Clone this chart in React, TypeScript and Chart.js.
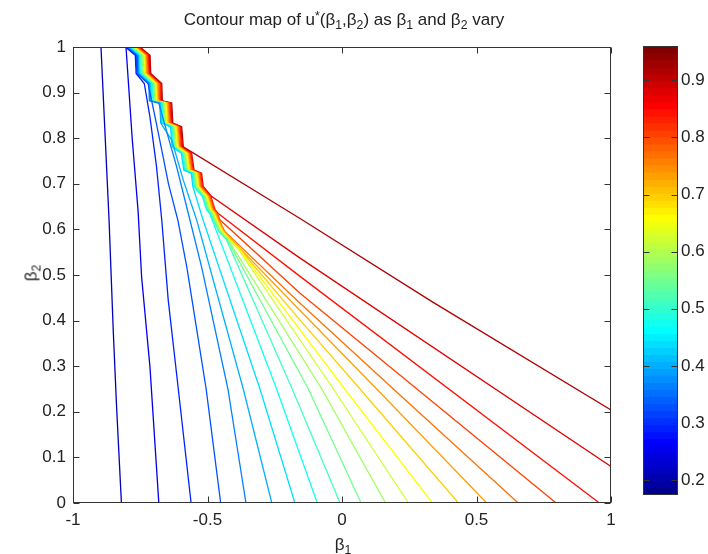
import React, { useEffect, useRef } from "react";
import { Chart, registerables } from "chart.js";

Chart.register(...registerables);

// ---- axes -----------------------------------------------------------------
const X_TICKS = [-1, -0.5, 0, 0.5, 1];
const Y_TICKS = [0, 0.1, 0.2, 0.3, 0.4, 0.5, 0.6, 0.7, 0.8, 0.9, 1];
const CB_TICKS = [0.2, 0.3, 0.4, 0.5, 0.6, 0.7, 0.8, 0.9];
const CB_MIN = 0.174;
const CB_MAX = 0.96;

// ---- contour levels of u* ------------------------------------------------
const LEVELS = [
  0.211, 0.249, 0.286, 0.324, 0.361, 0.399, 0.436, 0.473, 0.511, 0.548,
  0.586, 0.623, 0.661, 0.698, 0.735, 0.773, 0.81, 0.848, 0.885, 0.923,
];

// Stepped ridge (β1, β2) where u* jumps and the contours bunch together
const RIDGE: [number, number][] = [
  [-0.751, 1.0], [-0.714, 0.982], [-0.711, 0.942], [-0.67, 0.92],
  [-0.668, 0.882], [-0.633, 0.877], [-0.629, 0.833], [-0.596, 0.825],
  [-0.59, 0.781], [-0.559, 0.767], [-0.55, 0.73], [-0.522, 0.723],
  [-0.516, 0.694], [-0.484, 0.672], [-0.472, 0.643], [-0.46, 0.635],
  [-0.454, 0.621], [-0.435, 0.595], [-0.41, 0.577], [-0.38, 0.557],
];

// Index of the ridge vertex where each contour leaves it (-1: never on it)
const LEAVE_AT = [-1, -1, 2, 3, 5, 6, 12, 16, 18, 18, 18, 19, 19, 19, 18, 17, 16, 15, 13, 8];

// Course of each contour once it is off the ridge
const C01: [number, number][] = [[-0.896, 1], [-0.866, 0.621], [-0.85, 0.373], [-0.838, 0.211], [-0.82, 0]];
const C02: [number, number][] = [[-0.803, 1], [-0.78, 0.8], [-0.758, 0.64], [-0.745, 0.496], [-0.714, 0.299], [-0.681, 0]];
const C03: [number, number][] = [[-0.735, 0.92], [-0.714, 0.847], [-0.69, 0.74], [-0.67, 0.62], [-0.646, 0.445], [-0.615, 0.284], [-0.561, 0]];
const C04: [number, number][] = [[-0.695, 0.847], [-0.67, 0.774], [-0.645, 0.7], [-0.61, 0.62], [-0.577, 0.518], [-0.505, 0.25], [-0.451, 0]];
const C05: [number, number][] = [[-0.645, 0.8], [-0.615, 0.738], [-0.565, 0.62], [-0.522, 0.518], [-0.424, 0.25], [-0.357, 0]];
const C06: [number, number][] = [[-0.633, 0.796], [-0.59, 0.708], [-0.54, 0.62], [-0.367, 0.25], [-0.261, 0]];
const C07: [number, number][] = [[-0.516, 0.62], [-0.305, 0.25], [-0.175, 0]];
const C08: [number, number][] = [[-0.243, 0.25], [-0.092, 0]];
const C09: [number, number][] = [[-0.185, 0.25], [-0.007, 0]];
const C10: [number, number][] = [[-0.125, 0.25], [0.071, 0]];
const C11: [number, number][] = [[-0.075, 0.25], [0.162, 0]];
const C12: [number, number][] = [[-0.032, 0.25], [0.247, 0]];
const C13: [number, number][] = [[0.01, 0.25], [0.336, 0]];
const C14: [number, number][] = [[-0.156, 0.401], [0.067, 0.25], [0.433, 0]];
const C15: [number, number][] = [[-0.156, 0.422], [0.129, 0.25], [0.538, 0]];
const C16: [number, number][] = [[-0.156, 0.438], [0.191, 0.25], [0.655, 0]];
const C17: [number, number][] = [[-0.156, 0.46], [0.796, 0]];
const C18: [number, number][] = [[-0.156, 0.497], [0.957, 0]];
const C19: [number, number][] = [[-0.156, 0.537], [1.0, 0.08]];
const C20: [number, number][] = [[-0.156, 0.624], [0.339, 0.44], [1.0, 0.204]];

const COURSES = [C01, C02, C03, C04, C05, C06, C07, C08, C09, C10, C11, C12, C13, C14, C15, C16, C17, C18, C19, C20];

// ---- styling --------------------------------------------------------------
const FONT_FAMILY = '"Liberation Sans", Arial, Helvetica, sans-serif';
const FONT_SIZE = 17;
const TEXT_COLOR = "#222222";
const AXIS_COLOR = "#333333";
const RIDGE_GAP = 0.0032; // sideways spacing of contours squeezed on the ridge
const TICK_LEN = 6;

// MATLAB jet(64) colour k (1..64)
function jet64(k: number): string {
  const u = (j: number) =>
    j < 1 || j > 47 ? 0 : j <= 16 ? j / 16 : j <= 31 ? 1 : (48 - j) / 16;
  const r = Math.round(u(k - 24) * 255);
  const g = Math.round(u(k - 8) * 255);
  const b = Math.round(u(k + 8) * 255);
  return `rgb(${r},${g},${b})`;
}

function levelColor(v: number): string {
  let k = Math.floor(((v - CB_MIN) / (CB_MAX - CB_MIN)) * 64) + 1;
  k = Math.max(1, Math.min(64, k));
  return jet64(k);
}

// Contours sharing a ridge vertex sit side by side, highest level on the ridge itself
function contourPath(i: number) {
  const pts: { x: number; y: number }[] = [];
  const leave = LEAVE_AT[i];
  for (let r = 0; r <= leave; r++) {
    let rank = 0;
    for (let j = i + 1; j < LEVELS.length; j++) if (LEAVE_AT[j] >= r) rank++;
    pts.push({ x: RIDGE[r][0] - rank * RIDGE_GAP, y: RIDGE[r][1] });
  }
  for (const [x, y] of COURSES[i]) pts.push({ x, y });
  return pts;
}

const fmt = (v: number) => String(Math.round(v * 100) / 100);

const boxPlugin = (ticksBothAxes: boolean) => ({
  id: "matlabBox",
  afterDatasetsDraw(chart: any) {
    const { ctx, chartArea } = chart;
    const { left, right, top, bottom } = chartArea;
    ctx.save();
    ctx.strokeStyle = AXIS_COLOR;
    ctx.lineWidth = 1;
    const L = Math.round(left) + 0.5;
    const R = Math.round(right) - 0.5;
    const T = Math.round(top) + 0.5;
    const B = Math.round(bottom) - 0.5;
    ctx.beginPath();
    const ys = chart.scales.y;
    for (const t of ys.ticks) {
      const py = Math.round(ys.getPixelForValue(t.value)) + 0.5;
      ctx.moveTo(L, py);
      ctx.lineTo(L + TICK_LEN, py);
      ctx.moveTo(R, py);
      ctx.lineTo(R - TICK_LEN, py);
    }
    if (ticksBothAxes) {
      const xs = chart.scales.x;
      for (const t of xs.ticks) {
        const px = Math.round(xs.getPixelForValue(t.value)) + 0.5;
        ctx.moveTo(px, B);
        ctx.lineTo(px, B - TICK_LEN);
        ctx.moveTo(px, T);
        ctx.lineTo(px, T + TICK_LEN);
      }
    }
    ctx.stroke();
    ctx.strokeRect(L, T, R - L, B - T);
    ctx.restore();
  },
});

const tickFont = { family: FONT_FAMILY, size: FONT_SIZE };
const hiddenGrid = { display: false, drawTicks: false, tickLength: 0 };

function ContourChart() {
  const ref = useRef<HTMLCanvasElement>(null);
  useEffect(() => {
    const datasets = LEVELS.map((lv, i) => ({
      label: `u* = ${lv}`,
      data: contourPath(i),
      showLine: true,
      borderColor: levelColor(lv),
      borderWidth: 1.3,
      pointRadius: 0,
      fill: false,
      tension: 0,
    }));
    const chart = new Chart(ref.current!, {
      type: "scatter",
      data: { datasets },
      options: {
        animation: false,
        responsive: false,
        events: [],
        layout: { padding: { left: 0, top: 47, right: 97, bottom: 0 } },
        plugins: { legend: { display: false }, tooltip: { enabled: false } },
        scales: {
          x: {
            type: "linear",
            min: -1,
            max: 1,
            afterBuildTicks: (s: any) => {
              s.ticks = X_TICKS.map((value) => ({ value }));
            },
            afterFit: (s: any) => {
              s.height = 51;
            },
            grid: hiddenGrid,
            border: { display: false },
            ticks: {
              padding: 7,
              font: tickFont,
              color: TEXT_COLOR,
              maxRotation: 0,
              autoSkip: false,
              callback: (v: any) => fmt(Number(v)),
            },
          },
          y: {
            type: "linear",
            min: 0,
            max: 1,
            afterBuildTicks: (s: any) => {
              s.ticks = Y_TICKS.map((value) => ({ value }));
            },
            afterFit: (s: any) => {
              s.width = 73;
            },
            grid: hiddenGrid,
            border: { display: false },
            ticks: {
              padding: 7,
              font: tickFont,
              color: TEXT_COLOR,
              autoSkip: false,
              callback: (v: any) => fmt(Number(v)),
            },
          },
        },
      },
      plugins: [boxPlugin(true)],
    } as any);
    return () => chart.destroy();
  }, []);
  return (
    <canvas
      ref={ref}
      width={708}
      height={554}
      style={{ position: "absolute", left: 0, top: 0, width: 708, height: 554 }}
    />
  );
}

function ColorBar() {
  const ref = useRef<HTMLCanvasElement>(null);
  useEffect(() => {
    const step = (CB_MAX - CB_MIN) / 64;
    // each band runs from its lower edge up to the top; higher bands are drawn over lower ones
    const datasets = [] as any[];
    for (let k = 63; k >= 0; k--) {
      datasets.push({
        data: [[CB_MIN + k * step, CB_MAX]],
        backgroundColor: jet64(k + 1),
        borderWidth: 0,
        barPercentage: 1,
        categoryPercentage: 1,
        grouped: false,
      });
    }
    const chart = new Chart(ref.current!, {
      type: "bar",
      data: { labels: ["u*"], datasets },
      options: {
        animation: false,
        responsive: false,
        events: [],
        layout: { padding: { left: 23, top: 46, right: 0, bottom: 59 } },
        plugins: { legend: { display: false }, tooltip: { enabled: false } },
        scales: {
          x: { display: false },
          y: {
            position: "right",
            min: CB_MIN,
            max: CB_MAX,
            afterBuildTicks: (s: any) => {
              s.ticks = CB_TICKS.map((value) => ({ value }));
            },
            afterFit: (s: any) => {
              s.width = 30;
            },
            grid: hiddenGrid,
            border: { display: false },
            ticks: {
              padding: 3,
              font: tickFont,
              color: TEXT_COLOR,
              autoSkip: false,
              callback: (v: any) => fmt(Number(v)),
            },
          },
        },
      },
      plugins: [boxPlugin(false)],
    } as any);
    return () => chart.destroy();
  }, []);
  return (
    <canvas
      ref={ref}
      width={88}
      height={554}
      style={{ position: "absolute", left: 620, top: 0, width: 88, height: 554 }}
    />
  );
}

const sub: React.CSSProperties = { fontSize: "0.72em", position: "relative", top: "0.32em" };
const sup: React.CSSProperties = { fontSize: "0.72em", position: "relative", top: "-0.45em" };

export default function App() {
  return (
    <div
      style={{
        position: "fixed",
        left: 0,
        top: 0,
        width: 708,
        height: 554,
        background: "#ffffff",
        overflow: "hidden",
        fontFamily: FONT_FAMILY,
        color: TEXT_COLOR,
      }}
    >
      <ContourChart />
      <ColorBar />
      <div
        style={{
          position: "absolute",
          left: 0,
          top: 10,
          width: 688,
          textAlign: "center",
          fontSize: FONT_SIZE,
          lineHeight: "20px",
          whiteSpace: "nowrap",
        }}
      >
        Contour map of u<span style={sup}>*</span>(β<span style={sub}>1</span>,β
        <span style={sub}>2</span>) as β<span style={sub}>1</span> and β
        <span style={sub}>2</span> vary
      </div>
      <div
        style={{
          position: "absolute",
          left: 0,
          top: 535,
          width: 686,
          textAlign: "center",
          fontSize: FONT_SIZE,
          lineHeight: "20px",
        }}
      >
        β<span style={sub}>1</span>
      </div>
      <div
        style={{
          position: "absolute",
          left: 32,
          top: 273,
          fontSize: FONT_SIZE,
          lineHeight: "20px",
          whiteSpace: "nowrap",
          transform: "translate(-50%, -50%) rotate(-90deg)",
        }}
      >
        β<span style={sub}>2</span>
      </div>
    </div>
  );
}
